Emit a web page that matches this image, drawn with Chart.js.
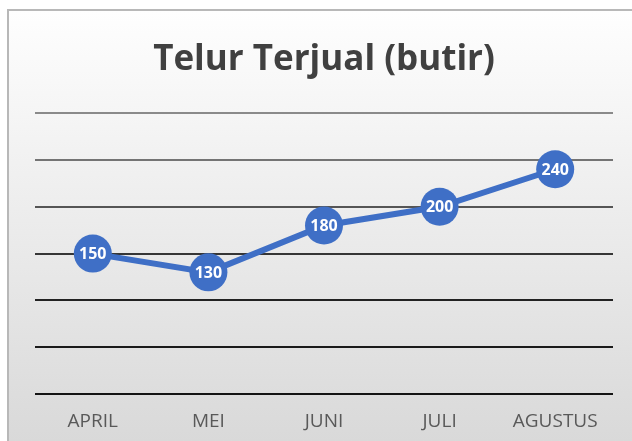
<!DOCTYPE html>
<html>
<head>
<meta charset="utf-8">
<script src="https://cdn.jsdelivr.net/npm/chart.js@4"></script>
<style>
  html, body { margin: 0; padding: 0; background: #fff; }
  #wrap { width: 632px; height: 441px; }
</style>
</head>
<body>
<div id="wrap"><canvas id="telur"></canvas></div>
<script>
// data
const bulan = ["APRIL", "MEI", "JUNI", "JULI", "AGUSTUS"];
const terjual = [150, 130, 180, 200, 240];
const judul = "Telur Terjual (butir)";

// grid colours, bottom (0) to top (300)
const warnaGrid = ["#141414", "#1a1a1a", "#222222", "#363636", "#555555", "#747474", "#8a8a8a"];

// background gradient + frame
const latar = {
  id: "latar",
  beforeDraw(chart) {
    const ctx = chart.ctx;
    const g = ctx.createLinearGradient(0, 0, 0, chart.height);
    g.addColorStop(0, "#ffffff");
    g.addColorStop(1, "#d9d9d9");
    ctx.save();
    ctx.fillStyle = "#ffffff";
    ctx.fillRect(0, 0, chart.width, chart.height);
    ctx.fillStyle = g;
    ctx.fillRect(8, 10, chart.width - 8, chart.height - 10);
    ctx.strokeStyle = "#b8b8b8";
    ctx.lineWidth = 2;
    ctx.strokeRect(8, 10, chart.width + 10, chart.height + 10);
    ctx.restore();
  }
};

// value labels inside the points
const labelNilai = {
  id: "labelNilai",
  afterDatasetsDraw(chart) {
    const ctx = chart.ctx;
    const meta = chart.getDatasetMeta(0);
    ctx.save();
    ctx.fillStyle = "#ffffff";
    ctx.font = "bold 16px 'Open Sans', sans-serif";
    ctx.textAlign = "center";
    ctx.textBaseline = "middle";
    meta.data.forEach((pt, i) => {
      ctx.fillText(chart.data.datasets[0].data[i], pt.x, pt.y + 1);
    });
    ctx.restore();
  }
};

new Chart(document.getElementById("telur"), {
  type: "line",
  data: {
    labels: bulan,
    datasets: [
      {
        data: terjual,
        borderColor: "#3f6fc6",
        backgroundColor: "#3f6fc6",
        borderWidth: 6,
        pointRadius: 19,
        pointHoverRadius: 19,
        pointBorderWidth: 0,
        tension: 0,
      },
    ],
  },
  options: {
    responsive: true,
    maintainAspectRatio: false,
    animation: false,
    layout: {
      padding: { left: 35, right: 19, top: 0, bottom: 0 },
    },
    plugins: {
      legend: { display: false },
      tooltip: { enabled: false },
      title: {
        display: true,
        text: judul,
        color: "#404040",
        font: { family: "'Open Sans', sans-serif", size: 35, weight: "bold" },
        padding: { top: 39, bottom: 32 },
      },
    },
    scales: {
      x: {
        offset: true,
        grid: { display: false },
        border: { display: false },
        ticks: {
          color: "#595959",
          font: { family: "'Open Sans', sans-serif", size: 19 },
          padding: 8,
        },
      },
      y: {
        min: 0,
        max: 300,
        grid: {
          color: (c) => warnaGrid[c.index] || "#444",
          lineWidth: 2,
          drawTicks: false,
        },
        border: { display: false },
        ticks: { display: false, stepSize: 50 },
      },
    },
  },
  plugins: [latar, labelNilai],
});
</script>
</body>
</html>
